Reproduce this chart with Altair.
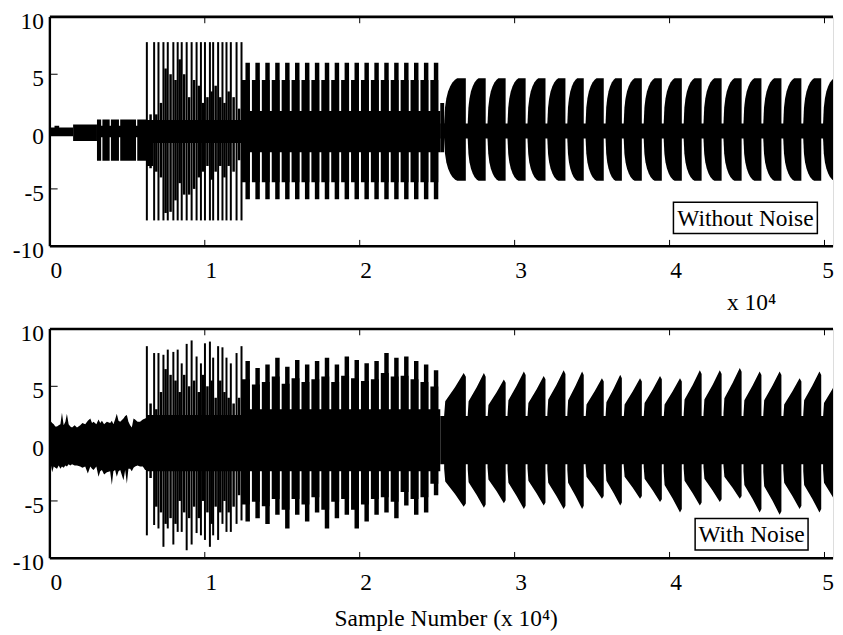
import altair as alt
import pandas as pd

FONT = "Liberation Serif"
FS = 23.5
XMAX = 5.055
PW, PH = 785.5, 230

x_ticks = [0, 1, 2, 3, 4, 5]
y_ticks = [-10, -5, 0, 5, 10]
y_tick_labels = ["-10", "-5", "0", "5", "10"]
x_minor = [1, 2, 3, 4, 5]
y_minor = [-5, 0, 5]

# ---------- positions shared by both panels (units of 10^4 samples) ----------
spike_x = [0.626, 0.673, 0.701, 0.733, 0.761, 0.797, 0.825, 0.851, 0.883, 0.915, 0.947,
           0.975, 1.001, 1.033, 1.054, 1.086, 1.114, 1.140, 1.168, 1.205, 1.237]
sub_x = [0.650, 0.687, 0.717, 0.747, 0.779, 0.811, 0.838, 0.867, 0.899, 0.931,
         0.961, 0.988, 1.017, 1.044, 1.070, 1.100, 1.127, 1.154, 1.186, 1.221]
burst_x = [1.240, 1.304, 1.368, 1.432, 1.496, 1.560, 1.624, 1.688, 1.752, 1.816,
           1.880, 1.944, 2.008, 2.072, 2.136, 2.200, 2.264, 2.328, 2.392, 2.456]
burst_end = 2.52
tooth_start = [2.545, 2.697, 2.825, 2.954, 3.083, 3.211, 3.340, 3.458, 3.587, 3.704,
               3.833, 3.962, 4.091, 4.219, 4.348, 4.477, 4.605, 4.734, 4.863, 4.991]
tooth_end = [2.685, 2.813, 2.942, 3.071, 3.199, 3.328, 3.446, 3.575, 3.692, 3.821,
             3.950, 4.079, 4.207, 4.336, 4.465, 4.593, 4.722, 4.851, 4.979, 5.108]

# ---------------- TOP: without noise ----------------
t_core_x0 = [0.0, 0.15, 0.304, 0.625, 1.24, 2.52, 2.52]
t_core_x1 = [0.15, 0.304, 0.625, 1.24, 2.52, 2.545, 5.1]
t_core_hi = [0.35, 0.62, 0.5, 1.0, 1.8, 2.5, 0.7]
t_core_lo = [-0.40, -0.82, -0.5, -1.0, -1.8, -1.8, -0.6]

t_blk_x0 = [0.03, 0.304, 0.339, 0.394, 0.454, 0.564, 0.625]
t_blk_x1 = [0.06, 0.331, 0.386, 0.446, 0.556, 0.625, 0.667]
t_blk_hi = [0.5, 1.05, 1.05, 1.05, 1.05, 1.05, 1.0]
t_blk_lo = [-0.3, -2.55, -2.55, -2.55, -2.55, -2.55, -3.0]

t_spike_hi = [7.8, 7.8, 7.8, 7.8, 7.8, 7.8, 7.8, 7.8, 7.8, 7.8, 7.8,
              7.8, 7.8, 7.8, 7.8, 7.8, 7.8, 7.8, 7.8, 7.8, 7.8]
t_spike_lo = [-7.75, -7.75, -7.75, -7.75, -7.75, -7.75, -7.75, -7.75, -7.75, -7.75, -7.75,
              -7.75, -7.75, -7.75, -7.75, -7.75, -7.75, -7.75, -7.75, -7.75, -7.75]
t_sub_hi = [1.5, 1.5, 2.5, 5.5, 5.0, 4.5, 6.3, 5.0, 3.0, 4.5,
            4.0, 2.5, 3.0, 3.5, 4.0, 3.0, 2.5, 3.5, 3.0, 2.0]
t_sub_lo = [-3.2, -3.5, -4.0, -7.1, -7.0, -6.0, -4.5, -5.5, -5.5, -5.0,
            -4.0, -3.5, -3.0, -4.2, -3.5, -3.0, -4.0, -3.0, -3.5, -2.5]

t_burst_hi = [6.0, 6.0, 6.0, 6.0, 6.0, 6.0, 6.0, 6.0, 6.0, 6.0,
              6.0, 6.0, 6.0, 6.0, 6.0, 6.0, 6.0, 6.0, 6.0, 6.0]
t_burst_lo = [-5.9, -5.9, -5.9, -5.9, -5.9, -5.9, -5.9, -5.9, -5.9, -5.9,
              -5.9, -5.9, -5.9, -5.9, -5.9, -5.9, -5.9, -5.9, -5.9, -5.9]

t_tooth_hi = [4.65, 4.65, 4.65, 4.65, 4.65, 4.65, 4.65, 4.65, 4.65, 4.65,
              4.65, 4.65, 4.65, 4.65, 4.65, 4.65, 4.65, 4.65, 4.65, 4.65]
t_tooth_lo = [-4.3, -4.3, -4.3, -4.3, -4.3, -4.3, -4.3, -4.3, -4.3, -4.3,
              -4.3, -4.3, -4.3, -4.3, -4.3, -4.3, -4.3, -4.3, -4.3, -4.3]
# tooth outline (fraction of tooth width, fraction of peak)
t_shape_f = [0.0, 0.04, 0.10, 0.18, 0.28, 0.38, 0.50, 0.60, 1.0]
t_shape_v = [0.15, 0.45, 0.62, 0.75, 0.85, 0.92, 0.97, 1.0, 1.0]

# ---------------- BOTTOM: with noise ----------------
noise_x = [0.003, 0.015, 0.025, 0.035, 0.046, 0.057, 0.068, 0.078, 0.089, 0.10,
           0.11, 0.121, 0.132, 0.143, 0.16, 0.175, 0.196, 0.21, 0.228, 0.245,
           0.261, 0.272, 0.282, 0.30, 0.314, 0.325, 0.336, 0.35, 0.368, 0.389,
           0.40, 0.41, 0.421, 0.432, 0.443, 0.454, 0.475, 0.486, 0.497, 0.507,
           0.518, 0.529, 0.54, 0.55, 0.566, 0.582, 0.60, 0.615, 0.628]
noise_hi = [2.0, 1.8, 1.7, 1.5, 1.5, 1.6, 1.7, 2.7, 1.6, 1.9,
            2.6, 1.7, 1.5, 1.4, 1.6, 1.4, 1.6, 1.8, 1.7, 2.0,
            2.2, 1.8, 1.9, 1.7, 2.1, 1.8, 2.0, 1.7, 1.9, 1.8,
            2.0, 1.7, 2.1, 2.6, 2.0, 1.9, 2.2, 2.4, 2.5, 1.9,
            1.6, 1.4, 2.2, 2.1, 1.9, 1.9, 2.1, 2.2, 2.3]
noise_lo = [-1.6, -2.5, -2.0, -2.1, -2.2, -1.9, -2.2, -2.0, -2.1, -1.9,
            -2.0, -1.8, -1.9, -1.8, -1.9, -1.9, -2.0, -2.1, -2.0, -2.6,
            -2.0, -2.2, -2.3, -2.0, -2.9, -2.4, -2.3, -2.7, -2.5, -2.4,
            -3.6, -2.4, -2.3, -2.9, -2.4, -2.3, -3.2, -2.3, -3.5, -2.2,
            -2.2, -2.4, -2.1, -2.0, -1.9, -2.0, -2.0, -2.3, -2.3]

b_core_x0 = [0.625, 1.24, 2.52]
b_core_x1 = [1.24, 2.52, 5.1]
b_core_hi = [2.5, 3.0, 2.4]
b_core_lo = [-2.4, -2.4, -1.8]

b_spike_hi = [8.5, 7.9, 7.9, 7.75, 8.2, 8.0, 8.2, 7.0, 8.7, 9.0, 7.6,
              7.0, 8.75, 8.9, 7.5, 8.5, 8.4, 7.5, 7.0, 7.9, 8.5]
b_spike_lo = [-8.0, -7.1, -7.4, -9.0, -7.4, -8.8, -7.7, -7.7, -9.3, -8.8, -7.8,
              -8.0, -8.4, -9.0, -8.0, -8.4, -7.0, -7.7, -7.7, -7.0, -6.7]
b_sub_hi = [3.5, 3.0, 4.5, 6.5, 6.0, 5.5, 4.5, 6.0, 5.0, 5.5,
            4.5, 6.0, 5.0, 5.5, 4.0, 5.5, 4.5, 4.0, 3.5, 4.0]
b_sub_lo = [-3.0, -5.5, -6.0, -7.0, -6.5, -7.0, -5.0, -6.0, -6.5, -5.5,
            -6.5, -5.0, -6.0, -7.0, -5.5, -6.0, -5.0, -6.0, -5.5, -4.5]

b_burst_hi = [7.2, 6.6, 6.9, 7.5, 6.7, 7.3, 6.9, 7.2, 7.5, 6.9,
              7.6, 7.3, 7.0, 7.2, 7.9, 7.5, 7.6, 7.2, 6.9, 6.4]
b_burst_lo = [-6.8, -6.5, -7.0, -6.2, -7.4, -6.2, -6.8, -6.0, -7.4, -6.5,
              -6.2, -7.4, -6.8, -6.2, -6.0, -6.5, -5.4, -6.2, -6.0, -4.5]

b_tooth_hi = [6.15, 6.15, 5.6, 6.3, 5.9, 6.4, 6.3, 5.7, 6.0, 5.7,
              5.9, 5.7, 6.4, 6.4, 6.6, 6.3, 6.3, 5.7, 6.3, 5.9]
b_tooth_lo = [-5.5, -5.6, -5.2, -5.7, -5.4, -5.7, -5.7, -4.8, -5.4, -4.8,
              -5.1, -6.0, -5.4, -5.1, -4.8, -6.0, -6.2, -5.7, -6.0, -5.7]
b_shape_f = [0.0, 0.05, 0.5, 0.9, 1.0]
b_shape_v = [0.4, 0.6, 0.8, 1.0, 0.95]

# label boxes: x0, x1, y_top, y_bottom (data units)
top_box = [4.025, 4.954, -6.16, -8.89]
bot_box = [4.165, 4.894, -6.53, -9.27]


# ---------------- table builders ----------------
def rect_rows(x0s, x1s, his, los):
    return [dict(x=a, x2=b, y=l, y2=h) for a, b, h, l in zip(x0s, x1s, his, los)]


def burst_rows(starts, end, his, los, level):
    ends = starts[1:] + [end]
    rows = []
    for s, e, h, l in zip(starts, ends, his, los):
        w = e - s
        rows.append(dict(x=s, x2=s + 0.8 * w, y=l * level, y2=h * level))
        rows.append(dict(x=s + 0.35 * w, x2=s + 0.8 * w, y=l, y2=h))
    return rows


def tooth_rows(tag, his, los, sf, sv):
    rows = []
    for i, (s, e, h, l) in enumerate(zip(tooth_start, tooth_end, his, los)):
        for f, v in zip(sf, sv):
            rows.append(dict(id=f"{tag}{i}", x=s + (e - s) * f, lo=l * v, hi=h * v))
    return rows


xs = alt.Scale(domain=[0, XMAX], nice=False, zero=False)
ys = alt.Scale(domain=[-10, 10], nice=False, zero=False)
X_LABEL_OFFSET = {"condition": {"test": "datum.value === 5", "value": 3}, "value": 6}


def make_panel(rects, areas, spikes, subs, title, ty, talign, tx, box, label):
    x_axis = alt.Axis(values=x_ticks, format="d", domain=False, ticks=False, grid=False,
                      labelFont=FONT, labelFontSize=FS, labelColor="black", labelPadding=12,
                      labelOffset=X_LABEL_OFFSET, labelFlush=False, title=title, titleFont=FONT,
                      titleFontSize=FS, titleFontWeight="normal", titleColor="black",
                      titleX=tx, titleY=ty, titleAlign=talign, titleBaseline="alphabetic")
    y_axis = alt.Axis(values=y_ticks, domain=False, ticks=False, grid=False,
                      labels=False, title=None)

    def X(f):
        return alt.X(f, scale=xs, axis=x_axis)

    def Y(f):
        return alt.Y(f, scale=ys, axis=y_axis)

    rect_layer = alt.Chart(pd.DataFrame(rects)).mark_rect(color="black", clip=True).encode(
        x=X("x:Q"), x2="x2:Q", y=Y("y:Q"), y2="y2:Q")
    area_layer = alt.Chart(pd.DataFrame(areas)).mark_area(
        color="black", interpolate="linear", clip=True).encode(
        x=X("x:Q"), y=Y("lo:Q"), y2="hi:Q", detail="id:N")
    spike_layer = alt.Chart(pd.DataFrame(spikes)).mark_rule(color="black", strokeWidth=2).encode(
        x=X("x:Q"), y=Y("lo:Q"), y2="hi:Q")
    sub_layer = alt.Chart(pd.DataFrame(subs)).mark_rule(color="black", strokeWidth=2.5).encode(
        x=X("x:Q"), y=Y("lo:Q"), y2="hi:Q")

    frame_h = alt.Chart(pd.DataFrame({"y": [-10, 10]})).mark_rule(color="black", strokeWidth=2.6).encode(
        y=Y("y:Q"))
    frame_v = alt.Chart(pd.DataFrame({"x": [0]})).mark_rule(color="black", strokeWidth=2.4).encode(
        x=X("x:Q"))
    xt = pd.DataFrame({"x": x_minor + x_minor,
                       "y": [-10] * len(x_minor) + [10] * len(x_minor),
                       "y2": [-9.45] * len(x_minor) + [9.45] * len(x_minor)})
    xtick_layer = alt.Chart(xt).mark_rule(color="black", strokeWidth=1).encode(
        x=X("x:Q"), y=Y("y:Q"), y2="y2:Q")
    yt = pd.DataFrame({"y": y_minor, "x": [0] * len(y_minor), "x2": [0.05] * len(y_minor)})
    ytick_layer = alt.Chart(yt).mark_rule(color="black", strokeWidth=1).encode(
        y=Y("y:Q"), x=X("x:Q"), x2="x2:Q")

    # y tick labels (text placed through the y scale)
    ylab = pd.DataFrame({"y": y_ticks, "t": y_tick_labels})
    ylab_layer = alt.Chart(ylab).mark_text(font=FONT, fontSize=FS, color="black",
                                           align="right", baseline="middle", dx=-6, dy=5).encode(
        y=Y("y:Q"), x=alt.value(0), text="t:N")

    bx0, bx1, by0, by1 = box
    lab = pd.DataFrame({"label": [label], "x0": [bx0], "x1": [bx1], "y0": [by0], "y1": [by1],
                        "xc": [(bx0 + bx1) / 2], "yc": [(by0 + by1) / 2]})
    box_layer = alt.Chart(lab).mark_rect(fill="white", stroke="black", strokeWidth=1.5).encode(
        x=X("x0:Q"), x2="x1:Q", y=Y("y0:Q"), y2="y1:Q")
    text_layer = alt.Chart(lab).mark_text(font=FONT, fontSize=FS, color="black",
                                          align="center", baseline="middle", dy=1).encode(
        x=X("xc:Q"), y=Y("yc:Q"), text="label:N")

    return alt.layer(rect_layer, area_layer, spike_layer, sub_layer, frame_h, frame_v,
                     xtick_layer, ytick_layer, ylab_layer, box_layer, text_layer
                     ).properties(width=PW, height=PH)


# top panel
top_rects = (rect_rows(t_core_x0, t_core_x1, t_core_hi, t_core_lo)
             + rect_rows(t_blk_x0, t_blk_x1, t_blk_hi, t_blk_lo)
             + burst_rows(burst_x, burst_end, t_burst_hi, t_burst_lo, 0.75))
top_areas = tooth_rows("t", t_tooth_hi, t_tooth_lo, t_shape_f, t_shape_v)
top_spikes = [dict(x=a, hi=h, lo=l) for a, h, l in zip(spike_x, t_spike_hi, t_spike_lo)]
top_subs = [dict(x=a, hi=h, lo=l) for a, h, l in zip(sub_x, t_sub_hi, t_sub_lo)]
top = make_panel(top_rects, top_areas, top_spikes, top_subs,
                 "x 10\u2074", 63, "right", 728, top_box, "Without Noise")

# bottom panel
bot_rects = (rect_rows(b_core_x0, b_core_x1, b_core_hi, b_core_lo)
             + burst_rows(burst_x, burst_end, b_burst_hi, b_burst_lo, 0.78))
bot_areas = ([dict(id="noise", x=a, lo=l, hi=h) for a, h, l in zip(noise_x, noise_hi, noise_lo)]
             + tooth_rows("b", b_tooth_hi, b_tooth_lo, b_shape_f, b_shape_v))
bot_spikes = [dict(x=a, hi=h, lo=l) for a, h, l in zip(spike_x, b_spike_hi, b_spike_lo)]
bot_subs = [dict(x=a, hi=h, lo=l) for a, h, l in zip(sub_x, b_sub_hi, b_sub_lo)]
bottom = make_panel(bot_rects, bot_areas, bot_spikes, bot_subs,
                    "Sample Number (x 10\u2074)", 67, "center", 397, bot_box, "With Noise")

chart = alt.vconcat(top, bottom, spacing=7).properties(
    padding={"left": 4, "top": 0, "right": 0, "bottom": 0}
).configure_view(stroke=None).configure(background="white")

chart.save("out.html", embed_options={"renderer": "svg", "actions": False})
